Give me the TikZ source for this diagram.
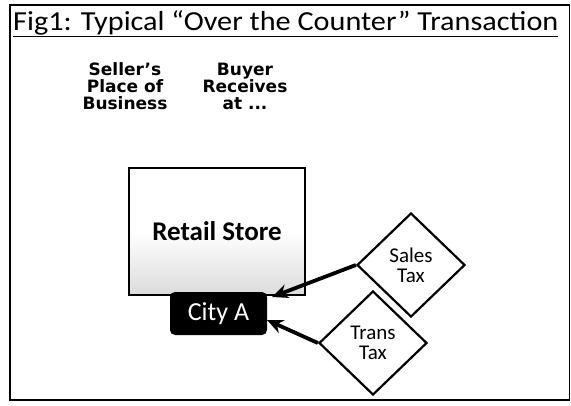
\documentclass[tikz,border=0pt]{standalone}
\usepackage{fontspec}
\setmainfont{Carlito}
\newfontfamily\hdrfont{DejaVu Sans}
\usetikzlibrary{shapes.geometric,arrows.meta}
\begin{document}
\begin{tikzpicture}[x=1pt,y=-1pt,
  hdr/.style={font=\hdrfont\bfseries\fontsize{17}{17}\selectfont,align=center,inner sep=0pt},
  taxbox/.style={draw=black,line width=2.2pt,diamond,fill=white,minimum width=108pt,minimum height=104pt,inner sep=0pt,align=center,font=\fontsize{21}{20}\selectfont},
  taxarrow/.style={line width=3.8pt,-{Stealth[length=16pt,width=14pt]}}]
\useasboundingbox (0,0) rectangle (571,405);
\fill[white] (0,0) rectangle (571,405);
\draw[line width=1.8pt] (10,5) rectangle (569.5,400);
\node[anchor=base west,inner sep=0pt,font=\fontsize{27.5}{30}\selectfont] (title) at (13,30) {\scalebox{1.1}[1]{\underline{Fig1: Typical “Over the Counter” Transaction}}};
\node[hdr] (seller) at (125,86) {Seller’s\\Place of\\Business};
\node[hdr] (buyer) at (245,86) {Buyer\\Receives\\at ...};
\node[draw=black,line width=1.8pt,minimum width=176pt,minimum height=127pt,inner sep=0pt,
  top color=white,bottom color=black!14,middle color=white,
  font=\bfseries\fontsize{27}{28}\selectfont] (store) at (217,231.5) {Retail Store};
\node[fill=black,rounded corners=5pt,minimum width=97pt,minimum height=43pt,inner sep=0pt,
  text=white,font=\fontsize{26}{26}\selectfont] (city) at (218.5,313.5) {City A};
\node[taxbox] (sales) at (411,265) {Sales\\Tax};
\node[taxbox] (trans) at (373,343) {Trans\\Tax};
\coordinate (t1) at (272,297);
\coordinate (t2) at (267,320);
\draw[taxarrow] (sales.west) -- (t1);
\draw[taxarrow] (trans.west) -- (t2);
\end{tikzpicture}
\end{document}
